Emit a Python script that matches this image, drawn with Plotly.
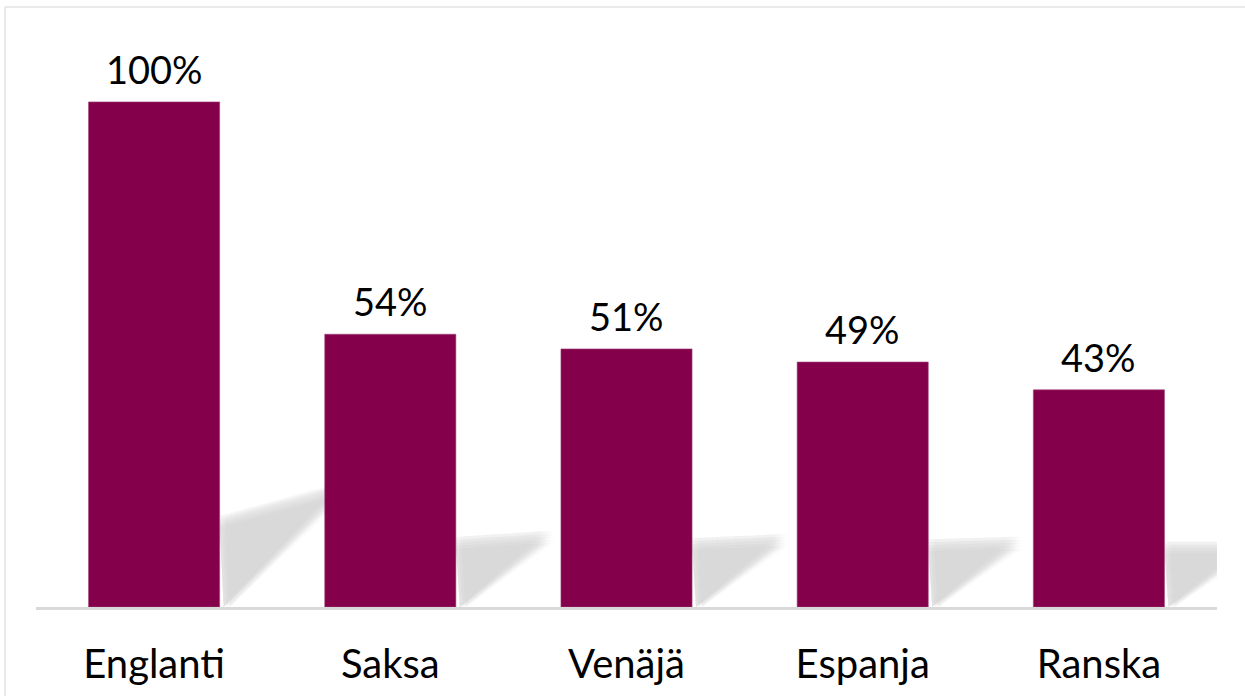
import plotly.graph_objects as go

categories = ["Englanti", "Saksa", "Venäjä", "Espanja", "Ranska"]
values = [100, 54, 51.1, 48.5, 43]
labels = ["100%", "54%", "51%", "49%", "43%"]

BAR_COLOR = "#85004B"
W, H = 1245, 696
ML, MR, MT, MB = 36, 28, 10, 89
Y_MAX = 118.2
BAR_W = 0.555
FONT = "Lato, Open Sans, sans-serif"

x_pos = list(range(len(categories)))

fig = go.Figure()
fig.add_trace(go.Bar(
    x=x_pos, y=values, width=BAR_W,
    marker=dict(color=BAR_COLOR, line=dict(color="#a0407a", width=0.6)),
    hoverinfo="skip",
))

for xi, v, lab in zip(x_pos, values, labels):
    fig.add_annotation(x=xi, y=v, text=lab, showarrow=False, yanchor="middle",
                       yshift=33, font=dict(family=FONT, size=38, color="#000"))

# decorative soft shadows cast behind bars
pw = W - ML - MR
ph = H - MT - MB
px_x = len(categories) / pw      # x-units per pixel
px_y = Y_MAX / ph                # y-units per pixel
shapes = []
offs = (-6, -3, 0, 3, 6)
for xi, v in zip(x_pos, values):
    h = 40 + 0.45 * v
    w = h / 0.7
    t = max(0.0, h - 60) * 1.3
    xr = xi + BAR_W / 2
    for dx in offs:
        for dy in offs:
            p = [
                (xr + (4 + max(dx, 0)) * px_x, 0),
                (xr + max(dx, 0) * px_x, (h + dy) * px_y),
                (xr + (w + dx) * px_x, (h + t + dy) * px_y),
            ]
            path = "M " + " L ".join(f"{a:.4f},{max(b, 0):.4f}" for a, b in p) + " Z"
            shapes.append(dict(type="path", path=path, xref="x", yref="y",
                               fillcolor="#d6d6d6", opacity=0.08, line=dict(width=0),
                               layer="below"))

# outer light border (pixel coords converted to paper coords)
def px2paper_x(px):
    return (px - ML) / pw

def px2paper_y(py):
    return (H - MB - py) / ph

shapes.append(dict(type="line", xref="paper", yref="paper",
                   x0=px2paper_x(5), x1=px2paper_x(1260), y0=px2paper_y(7), y1=px2paper_y(7),
                   line=dict(color="#e3e3e3", width=1.5)))
shapes.append(dict(type="line", xref="paper", yref="paper",
                   x0=px2paper_x(5), x1=px2paper_x(5), y0=px2paper_y(7), y1=px2paper_y(710),
                   line=dict(color="#e3e3e3", width=1.5)))

fig.update_layout(
    width=W, height=H,
    margin=dict(l=ML, r=MR, t=MT, b=MB),
    paper_bgcolor="white", plot_bgcolor="white",
    showlegend=False,
    shapes=shapes,
    xaxis=dict(range=[-0.5, len(categories) - 0.5], tickvals=x_pos, ticktext=categories,
               showgrid=False, zeroline=False, showline=True, linecolor="#d9d9d9", linewidth=3,
               ticks="", ticklabelstandoff=20,
               tickfont=dict(family=FONT, size=40, color="#000"),
               fixedrange=True),
    yaxis=dict(range=[0, Y_MAX], visible=False, showgrid=False, zeroline=False, fixedrange=True),
)

fig.write_html("out.html", config={"displayModeBar": False},
               post_script="document.body.style.margin='0px';document.body.style.overflow='hidden';")
